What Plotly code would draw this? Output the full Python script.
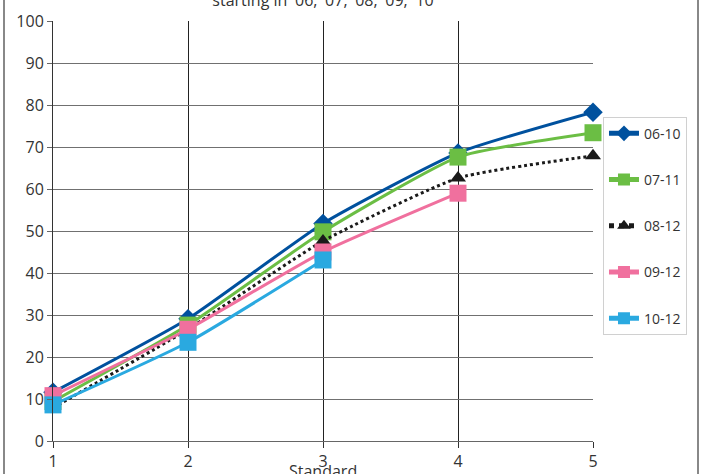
import plotly.graph_objects as go

standards = [1, 2, 3, 4, 5]
series_names = ["06-10", "07-11", "08-12", "09-12", "10-12"]
s0610 = [11.6, 29.1, 51.8, 68.6, 78.3]
s0711 = [9.4, 27.6, 49.8, 67.6, 73.4]
s0812 = [7.9, 26.6, 47.6, 62.6, 67.9]
s0912 = [10.8, 26.6, 45.0, 59.0]
s1012 = [8.6, 23.5, 43.1]
title_text = "starting in '06, '07, '08, '09, '10"
x_title = "Standard"

values = [s0610, s0711, s0812, s0912, s1012]
colors = ["#00519E", "#6BBE44", "#1A1A1A", "#F0709E", "#2AA9E0"]
symbols = ["diamond", "square", "triangle-up", "square", "square"]
msizes = [15, 17, 14, 17, 17]
dashes = ["solid", "solid", "dot", "solid", "solid"]

fig = go.Figure()
for name, vals, c, sym, ms, d in zip(series_names, values, colors, symbols, msizes, dashes):
    fig.add_trace(go.Scatter(
        x=standards[:len(vals)], y=vals, name=name, mode="lines+markers",
        line=dict(color=c, width=3, dash=d, shape="spline", smoothing=0.5),
        marker=dict(symbol=sym, size=ms, color=c),
        legendgroup=name, cliponaxis=False,
    ))

font = dict(family="Open Sans, Noto Sans, sans-serif", color="#333333")
fig.update_layout(
    width=702, height=474,
    margin=dict(l=53, r=109, t=21, b=33, autoexpand=False),
    paper_bgcolor="white", plot_bgcolor="white",
    font=dict(size=16, **font),
    title=dict(text=title_text, x=0.5, xanchor="center", xref="paper",
               y=1.0, yanchor="middle", yref="container", font=dict(size=16, **font)),
    showlegend=True,
    legend=dict(x=1.0185, y=0.772, xanchor="left", yanchor="top",
                bordercolor="#D0D0D0", borderwidth=1, font=dict(size=14, **font),
                traceorder="grouped", tracegroupgap=25, itemwidth=30,
                itemsizing="constant"),
    xaxis=dict(range=[1, 5], tickvals=standards, showgrid=True, gridcolor="#222222",
               gridwidth=1, ticks="outside", ticklen=6, tickcolor="#333333",
               showline=True, linecolor="#666666", linewidth=1, zeroline=False,
               automargin=False),
    yaxis=dict(range=[0, 100], dtick=10, showgrid=True, gridcolor="#707070",
               gridwidth=1, ticks="outside", ticklen=5, tickcolor="#666666",
               showline=True, linecolor="#333333", linewidth=1, zeroline=False,
               automargin=False),
)
fig.add_annotation(text=x_title, xref="paper", yref="paper", x=0.5, y=-0.041,
                   xanchor="center", yanchor="top", showarrow=False,
                   font=dict(size=16, **font))
fig.add_shape(type="line", xref="paper", yref="paper", x0=(4 - 53) / 540, x1=(4 - 53) / 540,
              y0=-0.2, y1=1.2, line=dict(color="#888888", width=2))
fig.add_shape(type="line", xref="paper", yref="paper", x0=(698 - 53) / 540, x1=(698 - 53) / 540,
              y0=-0.2, y1=1.2, line=dict(color="#888888", width=2))
fig.write_html("out.html", config={"displayModeBar": False},
               post_script="document.body.style.margin='0';document.body.style.overflow='hidden';")
